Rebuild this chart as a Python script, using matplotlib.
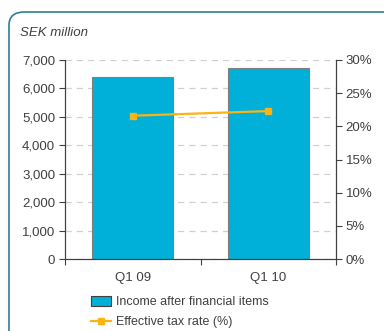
import matplotlib
matplotlib.use("Agg")
import matplotlib.pyplot as plt
from matplotlib.patches import FancyBboxPatch, Patch
from matplotlib.lines import Line2D
from matplotlib.ticker import FuncFormatter

# data
quarters = ["Q1 09", "Q1 10"]
income = [6400, 6720]          # SEK million
tax_rate = [21.6, 22.3]        # %

bar_color = "#00b0d8"
line_color = "#fbb316"
text_color = "#404040"

plt.rcParams["font.family"] = ["Liberation Sans", "DejaVu Sans"]
plt.rcParams["font.size"] = 9.5

fig = plt.figure(figsize=(3.84, 3.31), dpi=100)

# rounded frame round the whole chart
frame = FancyBboxPatch((9 / 384, -0.2), 1.2, 1 - 12 / 331 + 0.2,
                       boxstyle="round,pad=0,rounding_size=0.04",
                       transform=fig.transFigure, facecolor="none",
                       edgecolor="#2a7f96", linewidth=1.2, zorder=0)
fig.patches.append(frame)

ax = fig.add_axes([65 / 384, 1 - 259 / 331, (336 - 65) / 384, (259 - 60) / 331])
x = range(len(quarters))
ax.bar(x, income, width=0.6, color=bar_color, edgecolor="#7f7f7f", linewidth=0.8, zorder=2)
ax.set_xlim(-0.5, 1.5)
ax.set_ylim(0, 7000)
ax.set_yticks(range(0, 7001, 1000))
ax.yaxis.set_major_formatter(FuncFormatter(lambda v, p: f"{int(v):,}"))
ax.grid(axis="y", linestyle=(0, (5, 4)), color="#d0d0d0", linewidth=0.9, zorder=1)

# category ticks sit between the bars
ax.set_xticks([-0.5, 0.5, 1.5])
ax.set_xticklabels([])
ax.set_xticks(list(x), minor=True)
ax.set_xticklabels(quarters, minor=True)
ax.tick_params(axis="x", which="minor", length=0, pad=9, colors=text_color)
ax.tick_params(axis="x", which="major", length=4, color="#404040")
ax.tick_params(axis="y", length=4, color="#404040", labelcolor=text_color, pad=3)

ax.spines["top"].set_visible(False)
for side in ["left", "right", "bottom"]:
    ax.spines[side].set_color("#404040")
    ax.spines[side].set_linewidth(0.8)

ax2 = ax.twinx()
ax2.plot(list(x), tax_rate, color=line_color, linewidth=1.6, marker="s",
         markersize=5, zorder=3)
ax2.set_ylim(0, 30)
ax2.set_yticks(range(0, 31, 5))
ax2.yaxis.set_major_formatter(FuncFormatter(lambda v, p: f"{int(v)}%"))
ax2.tick_params(axis="y", length=4, color="#404040", labelcolor=text_color, pad=3)
ax2.spines["top"].set_visible(False)
for side in ["left", "right", "bottom"]:
    ax2.spines[side].set_color("#404040")
    ax2.spines[side].set_linewidth(0.8)

fig.text(20 / 384, 1 - 33 / 331, "SEK million", style="italic", color=text_color,
         fontsize=9.5, va="center", ha="left")

handles = [Patch(facecolor=bar_color, edgecolor="#404040", linewidth=0.8),
           Line2D([0], [0], color=line_color, linewidth=1.6, marker="s", markersize=4)]
labels = ["Income after financial items", "Effective tax rate (%)"]
fig.legend(handles, labels, loc="upper left", bbox_to_anchor=(91 / 384, 1 - 296 / 331),
           frameon=False, handlelength=1.6, handleheight=0.8, handletextpad=0.4,
           labelspacing=0.65, fontsize=9, labelcolor=text_color, borderpad=0,
           borderaxespad=0)

fig.savefig("out.png", dpi=100)
